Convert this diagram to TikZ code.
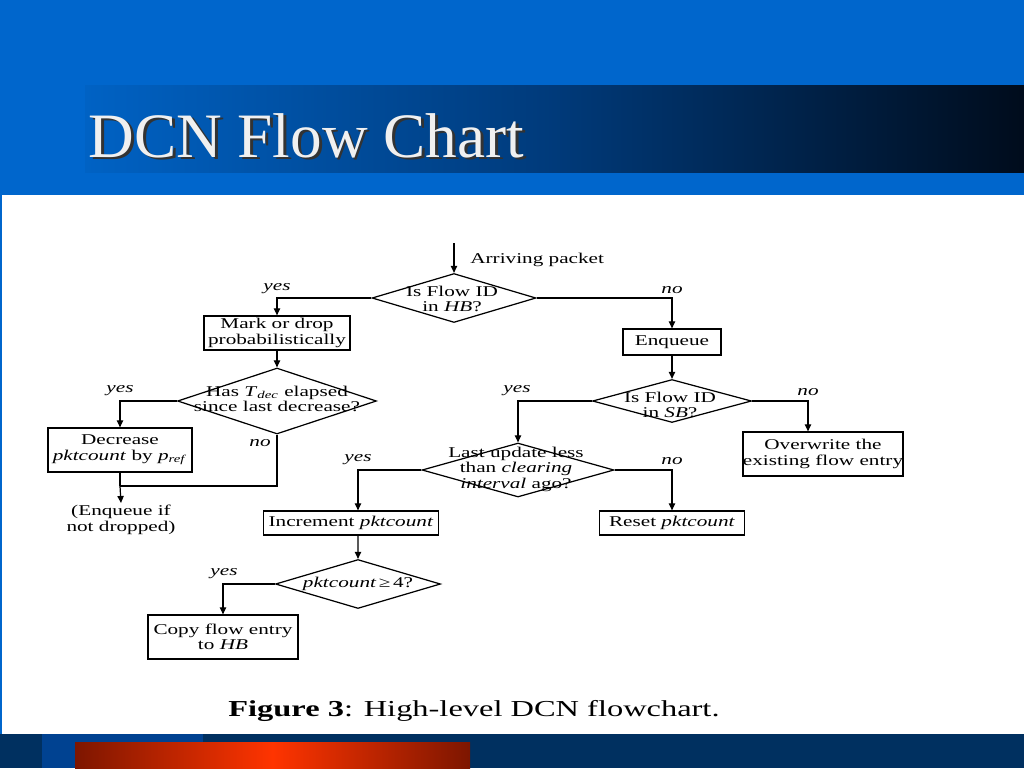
\documentclass[tikz,border=0pt]{standalone}
\usepackage{fontspec}
\setmainfont{Liberation Serif}
\newfontfamily\figfont[FakeStretch=1.42]{Liberation Serif}
\usetikzlibrary{arrows.meta,shapes.geometric}
\definecolor{slideblue}{RGB}{0,102,204}
\definecolor{bandleft}{RGB}{0,98,196}
\definecolor{bandmid}{RGB}{0,58,122}
\definecolor{bandright}{RGB}{0,12,28}
\definecolor{footnavy}{RGB}{0,48,96}
\definecolor{footblue}{RGB}{0,66,145}
\definecolor{footdark}{RGB}{125,22,0}
\definecolor{footred}{RGB}{255,52,0}

\begin{document}
\begin{tikzpicture}[x=0.02cm,y=-0.02cm,>={Triangle[length=4pt,width=3.6pt]},every node/.style={font=\figfont\fontsize{8.5}{8.8}\selectfont},proc/.style={draw,line width=0.7pt,rectangle,inner sep=0pt,align=center},decision/.style={draw,line width=0.7pt,diamond,inner sep=0pt},dtext/.style={align=center,inner sep=0pt},branch/.style={font=\figfont\itshape\fontsize{8.5}{8.8}\selectfont,inner sep=0pt,anchor=south},flow/.style={line width=0.7pt}]
\useasboundingbox (0,0) rectangle (1024,768);
% slide background
\fill[slideblue] (0,0) rectangle (1024,195);
\shade[left color=bandleft,right color=bandright,middle color=bandmid] (85,85) rectangle (1024,172);
\fill[white] (0,195) rectangle (1024,734);
\fill[slideblue] (0,195) rectangle (2,734);
\fill[footnavy] (0,734) rectangle (1024,768);
\fill[footblue] (42,734) rectangle (203,768);
\shade[left color=footdark,right color=footdark,middle color=footred] (75,742) rectangle (470,768);
\node[font=\fontsize{36}{40}\selectfont,anchor=base west,inner sep=0pt,text=gray!12] (title) at (88,157) {\makebox[0pt][l]{\hspace{1.7pt}\raisebox{-1.7pt}{\color{black!80}DCN Flow Chart}}DCN Flow Chart};
% boxes
\node[proc,minimum width=2.92cm,minimum height=0.68cm] (mark) at (277,333) {Mark or drop\\probabilistically};
\node[proc,minimum width=1.96cm,minimum height=0.52cm] (enq) at (672,342) {Enqueue};
\node[proc,minimum width=2.88cm,minimum height=0.88cm] (dec) at (120,450) {Decrease\\\textit{pktcount} by \textit{p}\textsubscript{\textit{ref}}};
\node[proc,minimum width=2.94cm,minimum height=0.88cm] (ow) at (823,454) {Overwrite the\\existing flow entry};
\node[proc,minimum width=3.5cm,minimum height=0.48cm] (inc) at (351,523) {Increment \textit{pktcount}};
\node[proc,minimum width=2.9cm,minimum height=0.48cm] (rst) at (672,523) {Reset \textit{pktcount}};
\node[proc,minimum width=3.0cm,minimum height=0.88cm] (cpy) at (223,637) {Copy flow entry\\to \textit{HB}};
% decisions
\node[decision,minimum width=3.28cm,minimum height=0.98cm] (hb) at (454,298) {};
\node[dtext] (hbq) at (452,299) {Is Flow ID\\in \textit{HB}?};
\node[decision,minimum width=3.98cm,minimum height=1.32cm] (tdec) at (277,401) {};
\node[dtext] (tdecq) at (277,399) {Has \textit{T}\textsubscript{\textit{dec}} elapsed\\since last decrease?};
\node[decision,minimum width=3.18cm,minimum height=0.86cm] (sb) at (672,401) {};
\node[dtext] (sbq) at (670,405) {Is Flow ID\\in \textit{SB}?};
\node[decision,minimum width=3.84cm,minimum height=1.08cm] (upd) at (518,470) {};
\node[dtext] (updq) at (516,469) {Last update less\\than \textit{clearing}\\\textit{interval} ago?};
\node[decision,minimum width=3.3cm,minimum height=0.98cm] (pk) at (358,584) {};
\node[dtext] (pkq) at (358,584) {\textit{pktcount}\,≥\,4?};
% free texts
\node[anchor=base west,inner sep=0pt] (arr) at (470,263) {Arriving packet};
\node[align=center,anchor=north,inner sep=1pt] (enqif) at (121,503) {(Enqueue if\\not dropped)};
\node[font=\figfont\fontsize{13}{15}\selectfont,anchor=base] (caption) at (474,716) {\textbf{Figure 3}: High-level DCN flowchart.};
% branch labels
\node[branch] (hbyes) at (277,294) {yes};
\node[branch] (hbno) at (672,294) {no};
\node[branch] (tdecyes) at (120,396) {yes};
\node[branch,anchor=east] (tdecno) at (271,443) {no};
\node[branch] (sbyes) at (517,396) {yes};
\node[branch] (sbno) at (808,396) {no};
\node[branch] (updyes) at (358,465) {yes};
\node[branch] (updno) at (672,465) {no};
\node[branch] (pkyes) at (224,579) {yes};
% connectors
\coordinate (in) at (454,243);
\coordinate (join) at (120,486);
\draw[flow,->] (in) -- (hb.north);
\draw[flow,->] (hb.west) -| (mark.north);
\draw[flow,->] (hb.east) -| (enq.north);
\draw[flow,->] (mark.south) -- (tdec.north);
\draw[flow,->] (tdec.west) -| (dec.north);
\draw[flow] (tdec.south) |- (join);
\draw[flow] (dec.south) -- (join);
\draw[flow,->] (join) -- (enqif.north);
\draw[flow,->] (enq.south) -- (sb.north);
\draw[flow,->] (sb.west) -| (upd.north);
\draw[flow,->] (sb.east) -| ([xshift=-0.3cm]ow.north);
\draw[flow,->] (upd.west) -| ([xshift=0.14cm]inc.north);
\draw[flow,->] (upd.east) -| (rst.north);
\draw[flow,->] ([xshift=0.14cm]inc.south) -- (pk.north);
\draw[flow,->] (pk.west) -| (cpy.north);
\end{tikzpicture}
\end{document}
